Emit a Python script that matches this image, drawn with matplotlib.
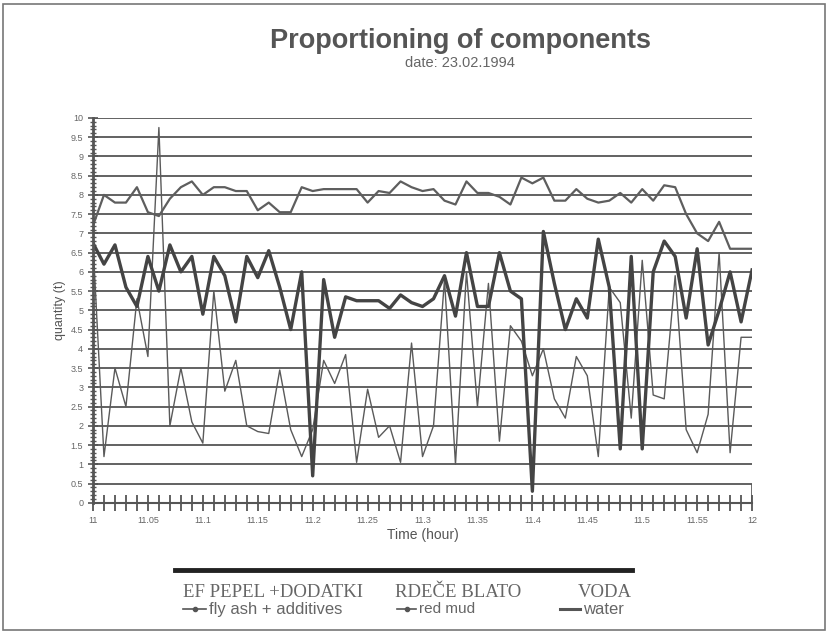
import numpy as np
import matplotlib.pyplot as plt
from matplotlib.ticker import MultipleLocator, FixedLocator
from matplotlib.lines import Line2D

plt.rcParams['font.family'] = ['Liberation Sans', 'DejaVu Sans']

# one reading per minute, 11:00 .. 12:00
minutes = np.arange(61)
tick_labels = ['11', '11.05', '11.1', '11.15', '11.2', '11.25', '11.3',
               '11.35', '11.4', '11.45', '11.5', '11.55', '12']
y_ticks = np.arange(0, 10.01, 0.5)
y_labels = ['0', '0.5', '1', '1.5', '2', '2.5', '3', '3.5', '4', '4.5', '5',
            '5.5', '6', '6.5', '7', '7.5', '8', '8.5', '9', '9.5', '10']

fly_ash = [6.75, 6.2, 6.7, 5.6, 5.1, 6.4, 5.5, 6.7, 6.0, 6.4,
           4.9, 6.4, 5.9, 4.7, 6.4, 5.85, 6.55, 5.6, 4.5, 6.0,
           0.7, 5.8, 4.3, 5.35, 5.25, 5.25, 5.25, 5.05, 5.4, 5.2,
           5.1, 5.3, 5.9, 4.85, 6.5, 5.1, 5.1, 6.5, 5.5, 5.3,
           0.3, 7.05, 5.7, 4.5, 5.3, 4.8, 6.85, 5.6, 1.4, 6.4,
           1.4, 6.0, 6.8, 6.4, 4.8, 6.6, 4.1, 5.0, 6.0, 4.7, 6.05]

red_mud = [6.75, 1.2, 3.5, 2.5, 5.3, 3.8, 9.75, 2.0, 3.5, 2.1,
           1.55, 5.5, 2.9, 3.7, 2.0, 1.85, 1.8, 3.45, 1.9, 1.2,
           1.9, 3.7, 3.1, 3.85, 1.05, 2.95, 1.7, 2.0, 1.05, 4.15,
           1.2, 2.0, 5.8, 1.0, 6.0, 2.5, 5.7, 1.6, 4.6, 4.2,
           3.3, 4.0, 2.7, 2.2, 3.8, 3.3, 1.2, 5.6, 5.2, 2.2,
           6.3, 2.8, 2.7, 5.9, 1.9, 1.3, 2.3, 6.5, 1.3, 4.3, 4.3]

water = [7.2, 8.0, 7.8, 7.8, 8.2, 7.55, 7.45, 7.9, 8.2, 8.35,
         8.0, 8.2, 8.2, 8.1, 8.1, 7.6, 7.8, 7.55, 7.55, 8.2,
         8.1, 8.15, 8.15, 8.15, 8.15, 7.8, 8.1, 8.05, 8.35, 8.2,
         8.1, 8.15, 7.85, 7.75, 8.35, 8.05, 8.05, 7.95, 7.75, 8.45,
         8.3, 8.45, 7.85, 7.85, 8.15, 7.9, 7.8, 7.85, 8.05, 7.8,
         8.15, 7.85, 8.25, 8.2, 7.5, 7.0, 6.8, 7.3, 6.6, 6.6, 6.6]

fig = plt.figure(figsize=(8.28, 6.34), dpi=100)
ax = fig.add_axes([0.1123, 0.207, 0.7960, 0.607])

ax.plot(minutes, red_mud, color='#5a5a5a', lw=1.0)
ax.plot(minutes, fly_ash, color='#444444', lw=2.4)
ax.plot(minutes, water, color='#5e5e5e', lw=1.6)

ax.set_xlim(0, 60)
ax.set_ylim(0, 10)
ax.yaxis.set_major_locator(FixedLocator(y_ticks))
ax.yaxis.set_minor_locator(MultipleLocator(0.1))
ax.set_yticklabels(y_labels)
ax.xaxis.set_major_locator(FixedLocator(np.arange(0, 61, 5)))
ax.xaxis.set_minor_locator(MultipleLocator(1))
ax.set_xticklabels(tick_labels)

ax.grid(axis='y', color='#555555', lw=1.3)
ax.set_axisbelow(True)
for side in ['top', 'right']:
    ax.spines[side].set_visible(False)
ax.spines['left'].set_color('#555555')
ax.spines['bottom'].set_color('#555555')
ax.spines['left'].set_linewidth(2)
ax.spines['bottom'].set_linewidth(1.5)
ax.tick_params(axis='both', which='both', colors='#555555', labelcolor='#666666', labelsize=6.5)
ax.tick_params(axis='x', which='both', direction='inout', length=12, width=1.3)
ax.tick_params(axis='y', which='major', direction='inout', length=7, width=1.2)
ax.tick_params(axis='y', which='minor', direction='inout', length=5, width=1.0)
ax.axvline(60, ymin=0, ymax=0.045, color='#555555', lw=1.2)

ax.set_xlabel('Time (hour)', fontsize=10, color='#555555', labelpad=2)
ax.set_ylabel('quantity (t)', fontsize=9, color='#555555', labelpad=3)

fig.text(0.556, 0.935, 'Proportioning of components', ha='center', va='center',
         fontsize=19.5, fontweight='bold', color='#555555')
fig.text(0.556, 0.901, 'date: 23.02.1994', ha='center', va='center',
         fontsize=10.5, color='#666666')

# legend block under the chart
fig.add_artist(Line2D([0.211, 0.763], [0.101, 0.101], color='#222222', lw=3.5))
serif = ['Liberation Serif', 'DejaVu Serif']
fig.text(0.221, 0.066, 'EF PEPEL +DODATKI', family=serif, fontsize=13.5, color='#666666', va='center')
fig.text(0.477, 0.066, 'RDEČE BLATO', family=serif, fontsize=13.5, color='#666666', va='center')
fig.text(0.698, 0.066, 'VODA', family=serif, fontsize=13.5, color='#666666', va='center')
fig.add_artist(Line2D([0.221, 0.235, 0.249], [0.039, 0.039, 0.039], color='#555555', lw=1.2,
                      marker='o', markersize=3, markevery=[1]))
fig.text(0.252, 0.039, 'fly ash + additives', fontsize=12, color='#666666', va='center')
fig.add_artist(Line2D([0.479, 0.491, 0.503], [0.039, 0.039, 0.039], color='#555555', lw=1.2,
                      marker='o', markersize=3, markevery=[1]))
fig.text(0.506, 0.039, 'red mud', fontsize=11, color='#666666', va='center')
fig.add_artist(Line2D([0.676, 0.700], [0.039, 0.039], color='#555555', lw=2.2))
fig.text(0.704, 0.039, 'water', fontsize=12, color='#666666', va='center')

# thin frame around the whole picture
fig.add_artist(plt.Rectangle((0.004, 0.006), 0.992, 0.988, transform=fig.transFigure,
                             fill=False, edgecolor='#777777', lw=1.2))

fig.savefig('out.png', dpi=100)
